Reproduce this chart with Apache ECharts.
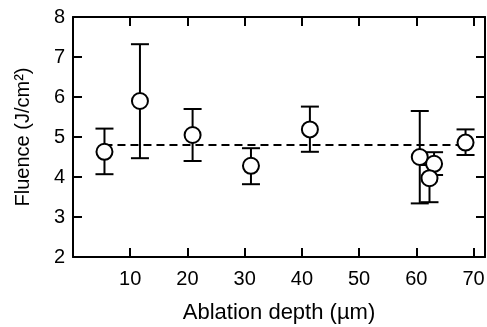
<!DOCTYPE html>
<html><head><meta charset="utf-8">
<script src="https://cdn.jsdelivr.net/npm/echarts@6/dist/echarts.min.js"></script>
<style>html,body{margin:0;padding:0;background:#fff}#c{width:487px;height:327px}</style>
</head><body><div id="c"></div>
<script>
var depth   = [5.5, 11.7, 20.9, 31.1, 41.4, 60.6, 63.1, 62.3, 68.6];
var fluence = [4.63, 5.90, 5.05, 4.28, 5.19, 4.50, 4.33, 3.97, 4.86];
var errHigh = [5.21, 7.32, 5.70, 4.72, 5.76, 5.65, 4.62, 4.30, 5.19];
var errLow  = [4.07, 4.47, 4.40, 3.82, 4.63, 3.34, 4.05, 3.37, 4.55];
var meanX = [5.5, 68.6];
var meanY = [4.8, 4.8];
var xTicks = [0, 10, 20, 30, 40, 50, 60, 70];
var yTicks = [2, 3, 4, 5, 6, 7, 8];

var FONT = 'Liberation Sans, Arial, sans-serif';
var chart = echarts.init(document.getElementById('c'), null, {renderer:'canvas'});
var errData = depth.map(function(d,i){return [d, errLow[i], errHigh[i]];});
var ptData = depth.map(function(d,i){return [d, fluence[i]];});
function tick(inside){ return {show:true, inside:inside, length:9, lineStyle:{color:'#000', width:2}}; }
var line = {show:true, onZero:false, lineStyle:{color:'#000', width:2}};
chart.setOption({
  animation:false,
  grid:{left:73, right:2, top:17, bottom:70, containLabel:false, outerBoundsMode:'none'},
  xAxis:[
    {type:'value', min:0, max:72, interval:10, position:'bottom', splitLine:{show:false},
      axisLine:line, axisTick:tick(true),
      name:'Ablation depth (\u00b5m)', nameLocation:'middle', nameGap:45,
      nameTextStyle:{fontFamily:FONT, fontSize:22, color:'#000'},
      axisLabel:{fontFamily:FONT, fontSize:20, color:'#000', margin:12,
        formatter:function(v){return xTicks.indexOf(v)>0 ? String(v) : '';}}},
    {type:'value', min:0, max:72, interval:10, position:'top', splitLine:{show:false},
      axisLine:line, axisTick:tick(true), axisLabel:{show:false}}
  ],
  yAxis:[
    {type:'value', min:2, max:8, interval:1, position:'left', splitLine:{show:false},
      axisLine:line, axisTick:tick(true),
      name:'Fluence (J/cm\u00b2)', nameLocation:'middle', nameGap:40,
      nameTextStyle:{fontFamily:FONT, fontSize:20, color:'#000'},
      axisLabel:{fontFamily:FONT, fontSize:20, color:'#000', margin:8,
        formatter:function(v){return yTicks.indexOf(v)>=0 ? String(v) : '';}}},
    {type:'value', min:2, max:8, interval:1, position:'right', splitLine:{show:false},
      axisLine:line, axisTick:tick(true), axisLabel:{show:false}}
  ],
  series:[
    {type:'line', data:meanX.map(function(x,i){return [x, meanY[i]];}), symbol:'none',
      lineStyle:{color:'#000', width:2, type:[8,5]}, z:1},
    {type:'custom', data:errData, z:2,
      renderItem:function(params, api){
        var x = api.value(0);
        var lo = api.coord([x, api.value(1)]);
        var hi = api.coord([x, api.value(2)]);
        var hw = 9;
        var st = {stroke:'#000', lineWidth:2};
        return {type:'group', children:[
          {type:'line', shape:{x1:lo[0], y1:lo[1], x2:hi[0], y2:hi[1]}, style:st},
          {type:'line', shape:{x1:lo[0]-hw, y1:lo[1], x2:lo[0]+hw, y2:lo[1]}, style:st},
          {type:'line', shape:{x1:hi[0]-hw, y1:hi[1], x2:hi[0]+hw, y2:hi[1]}, style:st}
        ]};
      }},
    {type:'scatter', data:ptData, symbol:'circle', symbolSize:16, z:3,
      itemStyle:{color:'#fff', borderColor:'#000', borderWidth:2, opacity:1}}
  ]
});
</script></body></html>
